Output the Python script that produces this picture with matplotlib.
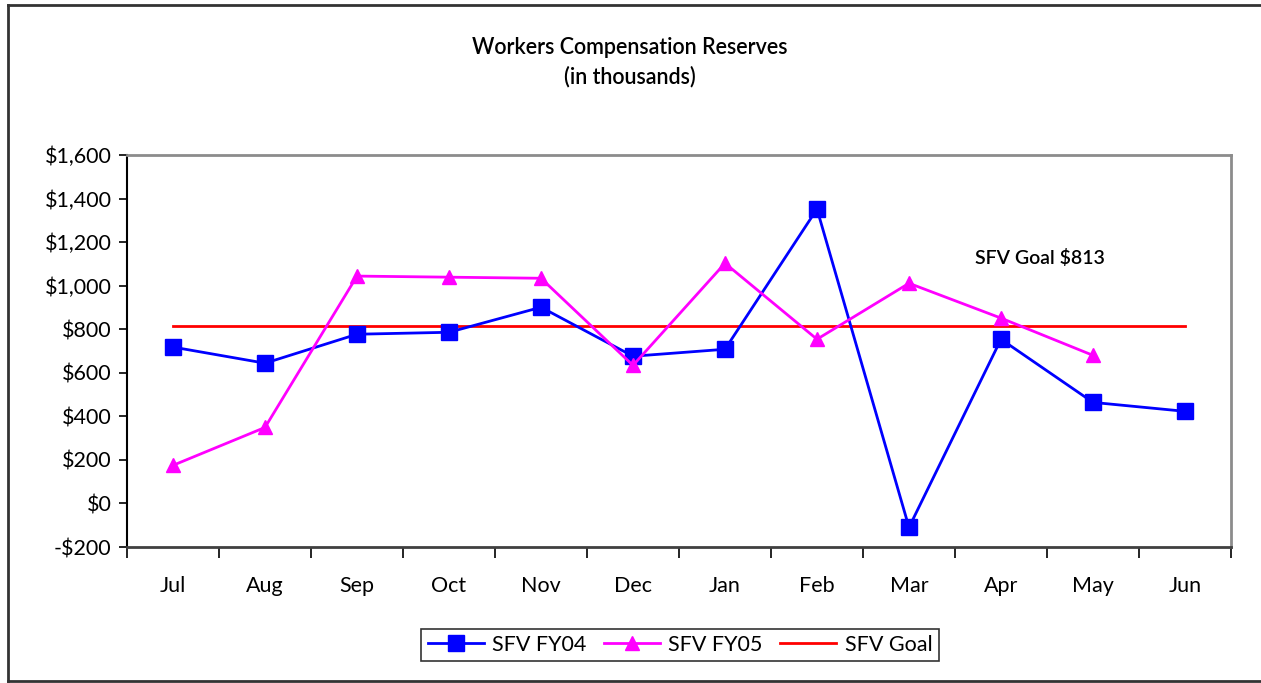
import matplotlib
matplotlib.use("Agg")
import matplotlib.pyplot as plt
from matplotlib.lines import Line2D
import numpy as np

months = ["Jul", "Aug", "Sep", "Oct", "Nov", "Dec", "Jan", "Feb", "Mar", "Apr", "May", "Jun"]
fy04 = [718, 644, 777, 786, 901, 676, 708, 1352, -110, 754, 464, 423]
fy05 = [175, 349, 1044, 1039, 1034, 634, 1103, 754, 1011, 851, 680, None]
goal = [813] * 12
yticks = [-200, 0, 200, 400, 600, 800, 1000, 1200, 1400, 1600]

plt.rcParams['font.family'] = ['Lato', 'DejaVu Sans']

W, H = 1261, 683
fig = plt.figure(figsize=(W / 100, H / 100), dpi=100)
ax = fig.add_axes([127 / W, 1 - 547 / H, (1231 - 127) / W, (547 - 155) / H])

x = np.arange(len(months))
y05 = np.array([np.nan if v is None else v for v in fy05], dtype=float)

ax.plot(x, goal, color='#ff0000', lw=2.0, label='SFV Goal', zorder=2)
ax.plot(x, fy04, color='#0000ff', lw=2.0, marker='s', ms=11, mfc='#0000ff', mec='#0000ff',
        label='SFV FY04', zorder=3)
ax.plot(x, y05, color='#ff00ff', lw=2.0, marker='^', ms=9.5, mfc='#ff00ff', mec='#ff00ff',
        label='SFV FY05', zorder=4)

ax.set_xlim(-0.5, len(months) - 0.5)
ax.set_ylim(yticks[0], yticks[-1])
ax.set_yticks(yticks)
ax.set_yticklabels([("-$" if v < 0 else "$") + f"{abs(v):,}" for v in yticks], fontsize=15.5)
ax.tick_params(axis='y', length=6, width=1.2, pad=5, color='black')

ax.set_xticks(np.arange(-0.5, len(months)), labels=[])
ax.set_xticks(x, minor=True)
ax.set_xticklabels(months, minor=True, fontsize=15.5)
ax.tick_params(axis='x', which='major', length=8, width=1.2, direction='out', color='black')
ax.tick_params(axis='x', which='minor', length=0, pad=21)

for s in ['top', 'right']:
    ax.spines[s].set_color('#8c8c8c')
    ax.spines[s].set_linewidth(2.0)
ax.spines['left'].set_color('black')
ax.spines['left'].set_linewidth(1.5)
ax.spines['bottom'].set_color('#404040')
ax.spines['bottom'].set_linewidth(2.0)

ax.text(0.827, 0.737, "SFV Goal $813", transform=ax.transAxes, ha='center', va='center',
        fontsize=14, fontweight='semibold')

fig.text(630 / W, 1 - 48 / H, "Workers Compensation Reserves", ha='center', va='center',
         fontsize=15.5, fontweight='semibold')
fig.text(630 / W, 1 - 77 / H, "(in thousands)", ha='center', va='center',
         fontsize=15.5, fontweight='semibold')

handles = [
    Line2D([], [], color='#0000ff', lw=2.0, marker='s', ms=11),
    Line2D([], [], color='#ff00ff', lw=2.0, marker='^', ms=9.5),
    Line2D([], [], color='#ff0000', lw=2.0),
]
leg = fig.legend(handles, ['SFV FY04', 'SFV FY05', 'SFV Goal'], loc='center',
                 bbox_to_anchor=(680 / W, 1 - 645 / H), ncol=3, fontsize=15.5,
                 frameon=True, fancybox=False, edgecolor='black', handlelength=2.6,
                 handletextpad=0.4, columnspacing=0.8, borderpad=0.3)
leg.get_frame().set_linewidth(1.2)

# outer chart border (left, top, bottom)
border_kw = dict(color='#333333', lw=2.0, transform=fig.transFigure)
fig.add_artist(Line2D([8 / W, 8 / W], [1 - 5 / H, 1 - 681 / H], **border_kw))
fig.add_artist(Line2D([8 / W, 1.0], [1 - 5 / H, 1 - 5 / H], **border_kw))
fig.add_artist(Line2D([8 / W, 1.0], [1 - 681 / H, 1 - 681 / H], **border_kw))

fig.savefig("out.png", dpi=100)
